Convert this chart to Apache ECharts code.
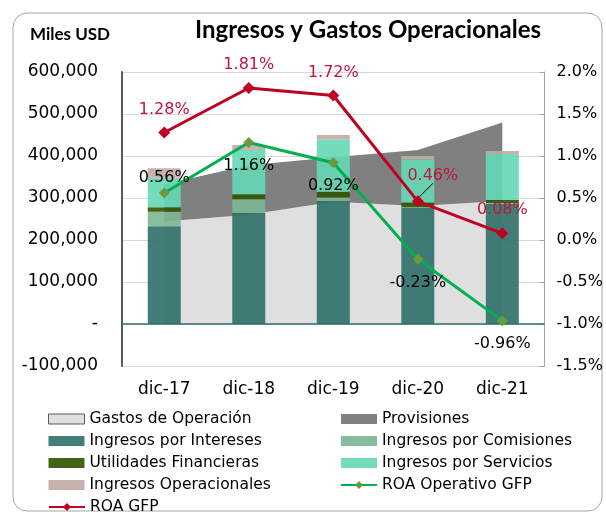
<!DOCTYPE html>
<html>
<head>
<meta charset="utf-8">
<script src="https://cdn.jsdelivr.net/npm/echarts@6/dist/echarts.min.js"></script>
<style>
  html, body { margin: 0; padding: 0; background: #fff; }
  #main { width: 606px; height: 515px; }
</style>
</head>
<body>
<div id="main"></div>
<script>
var chart = echarts.init(document.getElementById('main'));

// datos (Miles USD y %)
var categorias = ['dic-17', 'dic-18', 'dic-19', 'dic-20', 'dic-21'];
var gastosOperacion = [244000, 260000, 291000, 281000, 293000];
var provisiones = [89000, 118000, 106000, 133000, 187000];
var ingresosIntereses = [233000, 264000, 293000, 276000, 287000];
var ingresosComisiones = [34000, 33000, 8000, 2000, 1000];
var utilidadesFinancieras = [11000, 12000, 14000, 11000, 7000];
var ingresosServicios = [70000, 105000, 124000, 103000, 110000];
var ingresosOperacionales = [23000, 12000, 11000, 8000, 7000];
var roaOperativo = [0.56, 1.16, 0.92, -0.23, -0.96];
var roaGFP = [1.28, 1.81, 1.72, 0.46, 0.08];

var FONT = 'DejaVu Sans';

// posicion de etiquetas
var posOperativo = ['top', 'bottom', 'bottom', 'bottom', 'bottom'];

function pct(v) { return v.toFixed(2) + '%'; }

function barSerie(name, data, color) {
    return {
        name: name,
        type: 'bar',
        stack: 'ingresos',
        barWidth: 33,
        data: data,
        itemStyle: { color: color, opacity: 0.9 },
        z: 3
    };
}

function leyenda(left, top, items) {
    return {
        orient: 'vertical',
        left: left, top: top, padding: 0,
        itemWidth: 36, itemHeight: 10, itemGap: 6,
        textStyle: { fontFamily: FONT, fontSize: 15.5, color: '#000', lineHeight: 14 },
        data: items
    };
}

var option = {
    backgroundColor: '#fff',
    animation: false,
    textStyle: { fontFamily: FONT },
    graphic: [
        {
            type: 'rect',
            shape: { x: 13, y: 13, width: 589, height: 498, r: 14 },
            style: { fill: 'none', stroke: '#a6a6a6', lineWidth: 1 },
            silent: true
        },
        {
            type: 'text',
            left: 30, top: 26,
            style: { text: 'Miles USD', font: 'bold 17px Lato', fill: '#000' }
        },
        {
            type: 'text',
            left: 195, top: 18,
            style: { text: 'Ingresos y Gastos Operacionales', font: 'bold 24px Lato', fill: '#000' }
        }
    ],
    grid: { left: 122, right: 61, top: 72, bottom: 149 },
    legend: [
        leyenda(48, 411, [
            { name: 'Gastos de Operación', icon: 'rect', itemStyle: { borderColor: '#595959', borderWidth: 1 } },
            { name: 'Ingresos por Intereses', icon: 'rect' },
            { name: 'Utilidades Financieras', icon: 'rect' },
            { name: 'Ingresos Operacionales', icon: 'rect' }
        ]),
        leyenda(48, 499, [{ name: 'ROA GFP' }]),
        leyenda(340, 411, [
            { name: 'Provisiones', icon: 'rect' },
            { name: 'Ingresos por Comisiones', icon: 'rect' },
            { name: 'Ingresos por Servicios', icon: 'rect' },
            { name: 'ROA Operativo GFP' }
        ])
    ],
    xAxis: {
        type: 'category',
        data: categorias,
        axisLine: { show: false },
        axisTick: { show: false },
        axisLabel: { fontFamily: FONT, fontSize: 17, color: '#000', margin: 15 }
    },
    yAxis: [
        {
            type: 'value',
            min: -100000, max: 600000, interval: 100000,
            axisLine: { show: true, lineStyle: { color: '#595959', width: 2 } },
            axisTick: { show: false },
            splitLine: { lineStyle: { color: '#d9d9d9' } },
            axisLabel: {
                fontFamily: FONT, fontSize: 17, color: '#000', margin: 24,
                formatter: function (v) { return v === 0 ? '-' : v.toLocaleString('en-US'); }
            }
        },
        {
            type: 'value',
            min: -1.5, max: 2.0, interval: 0.5,
            position: 'right',
            axisLine: { show: true, lineStyle: { color: '#a6a6a6' } },
            axisTick: { show: true, inside: true, length: 5, lineStyle: { color: '#a6a6a6' } },
            splitLine: { show: false },
            axisLabel: {
                fontFamily: FONT, fontSize: 16, color: '#000', margin: 12,
                formatter: function (v) { return v.toFixed(1) + '%'; }
            }
        }
    ],
    series: [
        {
            name: 'Gastos de Operación',
            type: 'line',
            stack: 'gastos',
            data: gastosOperacion,
            symbol: 'none',
            lineStyle: { width: 0 },
            itemStyle: { color: '#dfdfdf' },
            areaStyle: { color: '#dfdfdf', opacity: 1 },
            z: 1,
            markLine: {
                silent: true,
                symbol: 'none',
                label: { show: false },
                lineStyle: { color: '#2e6f69', type: 'solid', width: 1.5 },
                data: [{ yAxis: 0 }]
            }
        },
        {
            name: 'Provisiones',
            type: 'line',
            stack: 'gastos',
            data: provisiones,
            symbol: 'none',
            lineStyle: { width: 0 },
            itemStyle: { color: '#808080' },
            areaStyle: { color: '#808080', opacity: 1 },
            z: 1
        },
        barSerie('Ingresos por Intereses', ingresosIntereses, '#2e6f69'),
        barSerie('Ingresos por Comisiones', ingresosComisiones, '#7db594'),
        barSerie('Utilidades Financieras', utilidadesFinancieras, '#2f5200'),
        barSerie('Ingresos por Servicios', ingresosServicios, '#66d7b6'),
        barSerie('Ingresos Operacionales', ingresosOperacionales, '#c3aaa5'),
        {
            name: 'ROA Operativo GFP',
            type: 'line',
            yAxisIndex: 1,
            symbol: 'diamond',
            symbolSize: 11,
            lineStyle: { color: '#00b050', width: 3 },
            itemStyle: { color: '#6a9a3c' },
            z: 5,
            data: roaOperativo.map(function (v, i) {
                return {
                    value: v,
                    label: {
                        show: true,
                        position: posOperativo[i],
                        distance: posOperativo[i] === 'top' ? 2 : 10,
                        formatter: pct(v),
                        fontFamily: FONT, fontSize: 16, color: '#000'
                    }
                };
            })
        },
        {
            name: 'ROA GFP',
            type: 'line',
            yAxisIndex: 1,
            symbol: 'diamond',
            symbolSize: 12,
            lineStyle: { color: '#c00020', width: 3 },
            itemStyle: { color: '#c00020' },
            z: 6,
            label: {
                show: true,
                position: 'top',
                distance: 9,
                fontFamily: FONT, fontSize: 16, color: '#c0143c',
                formatter: function (p) { return pct(p.value); }
            },
            labelLayout: function (p) {
                return p.dataIndex === 3 ? { dx: 15, dy: -3 } : {};
            },
            data: roaGFP.map(function (v, i) {
                return i === 3
                    ? { value: v, labelLine: { show: true, lineStyle: { color: '#000', width: 1 } } }
                    : v;
            })
        }
    ]
};
chart.setOption(option);
</script>
</body>
</html>
